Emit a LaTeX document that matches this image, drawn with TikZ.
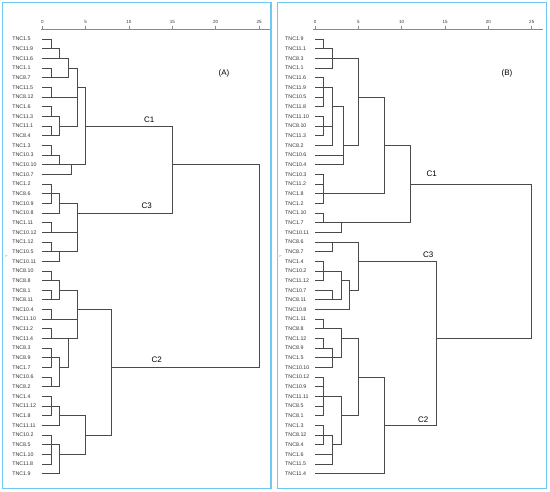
\documentclass[tikz,border=0pt]{standalone}
\usepackage{fontspec}
\setmainfont{Liberation Sans}
\usetikzlibrary{positioning}
\definecolor{frame}{HTML}{6EC8F2}
\definecolor{tree}{HTML}{4A4A4A}
\definecolor{axis}{HTML}{8A8A8A}
\definecolor{txt}{HTML}{333333}

% one merge: named point at (distance,row), joined to every child
\newcommand{\dmerge}[4]{%
  \coordinate (#1) at (#2,#3);
  \foreach \c in {#4}{\draw[dline] (\c) -- (\c -| #1) -- (#1);}
}

\begin{document}
\begin{tikzpicture}[
    dline/.style={tree, line width=0.7pt},
    axisline/.style={axis, line width=0.6pt},
    panel/.style={frame, line width=1.3pt},
    leaf/.style={anchor=west, inner sep=0pt, text=txt, font=\fontsize{5.3}{6}\selectfont},
    num/.style={inner sep=0pt, text=txt, font=\fontsize{4.5}{5}\selectfont},
    clab/.style={inner sep=0pt, text=black, font=\fontsize{8}{9}\selectfont},
    ylab/.style={inner sep=0pt, text=axis, font=\fontsize{3.5}{4}\selectfont, rotate=90},
]
\useasboundingbox (0,0) rectangle (550pt,-492pt);
\fill[white] (0,0) rectangle (550pt,-492pt);

% ============================================================ panel frames
\draw[panel] (2.5pt,-2.5pt) rectangle (271pt,-488.5pt);
\draw[panel] (277.5pt,-2.5pt) rectangle (546.5pt,-488.5pt);
\node[clab] (tagA) at (224pt,-73pt) {(A)};
\node[clab] (tagB) at (507pt,-73pt) {(B)};
\node[ylab] (ya) at (6.5pt,-256pt) {Y};
\node[ylab] (yb) at (280.5pt,-256pt) {Y};

% ============================================================ (A)
\begin{scope}[shift={(42.3pt,-29.36pt)}, x=8.67pt, y=-9.66pt]
\draw[axisline] (-0.2,0) -- (26.3,0);
\foreach \v in {0,5,...,25}{
    \draw[axisline] (\v,0) -- (\v,-0.3);
    \node[num] at (\v,-0.72) {\v};
}
\foreach \nm [count=\i] in {TNC1.5, TNC11.9, TNC11.6, TNC1.1, TNC8.7, TNC11.5,
    TNC8.12, TNC1.6, TNC11.3, TNC11.1, TNC8.4, TNC1.3, TNC10.3, TNC10.10, TNC10.7,
    TNC1.2, TNC8.6, TNC10.9, TNC10.8, TNC1.11, TNC10.12, TNC1.12, TNC10.5, TNC10.11,
    TNC8.10, TNC8.8, TNC8.1, TNC8.11, TNC10.4, TNC11.10, TNC11.2, TNC11.4, TNC8.3,
    TNC8.9, TNC1.7, TNC10.6, TNC8.2, TNC1.4, TNC11.12, TNC1.8, TNC11.11, TNC10.2,
    TNC8.5, TNC1.10, TNC11.8, TNC1.9}{
    \coordinate (a\i) at (0,\i);
    \node[leaf] (la\i) at (-3.48,\i) {\nm};
}
% C1
\dmerge{A1}{1}{2}{a1,a2}
\dmerge{A2}{2}{3}{A1,a3}
\dmerge{A3}{1}{5}{a4,a5}
\dmerge{A4}{3}{4}{A2,A3}
\dmerge{A5}{1}{7}{a6,a7}
\dmerge{A6}{1}{9}{a8,a9}
\dmerge{A7}{1}{11}{a10,a11}
\dmerge{A8}{2}{10}{A6,A7}
\dmerge{A9}{4}{6}{A4,A5,A8}
\dmerge{A10}{1}{13}{a12,a13}
\dmerge{A11}{2}{14}{A10,a14}
\dmerge{A12}{3.4}{14}{A11,a15}
\dmerge{A13}{5}{10}{A9,A12}
% C3
\dmerge{A14}{1}{17}{a16,a17,a18}
\dmerge{A15}{2}{18}{A14,a19}
\dmerge{A16}{1}{21}{a20,a21}
\dmerge{A17}{1}{23}{a22,a23}
\dmerge{A18}{2}{23}{A17,a24}
\dmerge{A19}{4}{19}{A15,A16,A18}
\dmerge{A20}{15}{14}{A13,A19}
% C2
\dmerge{A21}{1}{26}{a25,a26}
\dmerge{A22}{1}{28}{a27,a28}
\dmerge{A23}{2}{27}{A21,A22}
\dmerge{A24}{1}{30}{a29,a30}
\dmerge{A25}{1}{32}{a31,a32}
\dmerge{A26}{1}{34}{a33,a34,a35}
\dmerge{A27}{1}{37}{a36,a37}
\dmerge{A28}{2}{35}{A26,A27}
\dmerge{A29}{3}{32}{A25,A28}
\dmerge{A30}{4}{29}{A23,A24,A29}
\dmerge{A31}{1}{39}{a38,a39,a40}
\dmerge{A32}{2}{40}{A31,a41}
\dmerge{A33}{1}{43}{a42,a43,a44,a45}
\dmerge{A34}{2}{44}{A33,a46}
\dmerge{A35}{5}{42}{A32,A34}
\dmerge{A36}{8}{35}{A30,A35}
\dmerge{A37}{25}{24}{A20,A36}

\node[clab] (c1a) at (12.34,9.31) {C1};
\node[clab] (c3a) at (12.04,18.29) {C3};
\node[clab] (c2a) at (13.19,34.16) {C2};
\end{scope}

% ============================================================ (B)
\begin{scope}[shift={(315pt,-29.36pt)}, x=8.67pt, y=-9.66pt]
\draw[axisline] (-0.2,0) -- (26.3,0);
\foreach \v in {0,5,...,25}{
    \draw[axisline] (\v,0) -- (\v,-0.3);
    \node[num] at (\v,-0.72) {\v};
}
\foreach \nm [count=\i] in {TNC1.9, TNC11.1, TNC8.3, TNC1.1, TNC11.6, TNC11.9,
    TNC10.5, TNC11.8, TNC11.10, TNC8.10, TNC11.3, TNC8.2, TNC10.6, TNC10.4, TNC10.3,
    TNC11.2, TNC1.8, TNC1.2, TNC1.10, TNC1.7, TNC10.11, TNC8.6, TNC8.7, TNC1.4,
    TNC10.2, TNC11.12, TNC10.7, TNC8.11, TNC10.8, TNC1.11, TNC8.8, TNC1.12, TNC8.9,
    TNC1.5, TNC10.10, TNC10.12, TNC10.9, TNC11.11, TNC8.5, TNC8.1, TNC1.3, TNC8.12,
    TNC8.4, TNC1.6, TNC11.5, TNC11.4}{
    \coordinate (b\i) at (0,\i);
    \node[leaf] (lb\i) at (-3.46,\i) {\nm};
}
% C1
\dmerge{B1}{1}{2}{b1,b2}
\dmerge{B2}{2}{3}{B1,b3,b4}
\dmerge{B3}{1}{6}{b5,b6,b7,b8}
\dmerge{B4}{1}{10}{b9,b10,b11}
\dmerge{B5}{2}{8}{B3,B4,b12}
\dmerge{B6}{3.3}{12}{B5,b13,b14}
\dmerge{B7}{5}{7}{B2,B6}
\dmerge{B8}{1}{17}{b15,b16,b17,b18}
\dmerge{B9}{8}{12}{B7,B8}
\dmerge{B10}{1}{20}{b19,b20}
\dmerge{B11}{3}{20}{B10,b21}
\dmerge{B12}{11}{16}{B9,B11}
% C3
\dmerge{B13}{2}{22}{b22,b23}
\dmerge{B14}{1}{25}{b24,b25,b26}
\dmerge{B15}{2}{28}{b27,b28}
\dmerge{B16}{3}{26}{B14,B15}
\dmerge{B17}{4}{27}{B16,b29}
\dmerge{B18}{5}{24}{B13,B17}
% C2
\dmerge{B19}{1}{31}{b30,b31}
\dmerge{B20}{1}{33}{b32,b33}
\dmerge{B21}{2}{34}{B20,b34,b35}
\dmerge{B22}{3}{32}{B19,B21}
\dmerge{B23}{1}{38}{b36,b37,b38,b39,b40}
\dmerge{B24}{1}{42}{b41,b42,b43}
\dmerge{B25}{2}{43}{B24,b44,b45}
\dmerge{B26}{3}{40}{B23,B25}
\dmerge{B27}{5}{36}{B22,B26}
\dmerge{B28}{8}{41}{B27,b46}
\dmerge{B29}{14}{32}{B18,B28}
\dmerge{B30}{25}{24}{B12,B29}

\node[clab] (c1b) at (13.46,14.9) {C1};
\node[clab] (c3b) at (13.07,23.29) {C3};
\node[clab] (c2b) at (12.49,40.37) {C2};
\end{scope}

\end{tikzpicture}
\end{document}
